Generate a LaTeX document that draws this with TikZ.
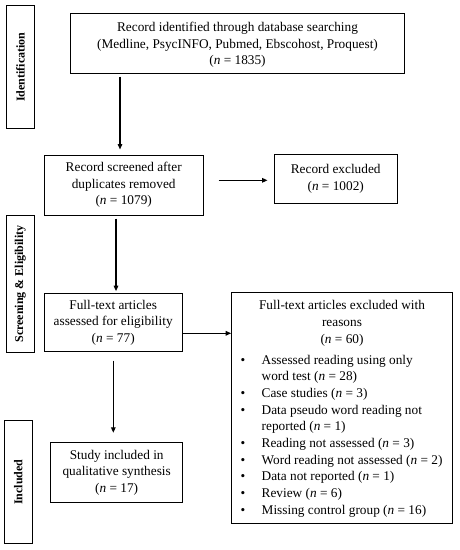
\documentclass[tikz,border=0pt]{standalone}
\usepackage{fontspec}
\setmainfont{Liberation Serif}
\usetikzlibrary{arrows.meta}
\newcommand{\nn}{\textit{n}}
\begin{document}
\begin{tikzpicture}[x=1pt,y=-1pt,
  txt/.style={font=\fontsize{13.3}{16.7}\selectfont},
  box/.style={txt,draw=black,line width=1pt,align=center,inner sep=0pt},
  side/.style={draw=black,line width=1pt,inner sep=0pt},
  sidetxt/.style={rotate=90,font=\fontsize{12}{14}\selectfont\bfseries,inner sep=0pt},
  arr/.style={line width=1.3pt,-{Triangle[length=5.5pt,width=4.5pt]}}]
\fill[white] (0,0) rectangle (460,550);
\useasboundingbox (0,0) rectangle (460,550);

% side labels
\node[side,minimum width=28.4pt,minimum height=122.6pt] (sid) at (20.5,67) {};
\node[sidetxt] (sidt) at (sid.center) {Identification};
\node[side,minimum width=28.3pt,minimum height=136.6pt] (sscr) at (20.2,284) {};
\node[sidetxt] (sscrt) at (sscr.center) {Screening \& Eligibility};
\node[side,minimum width=28.3pt,minimum height=122.6pt] (sinc) at (18.2,482) {};
\node[sidetxt] (sinct) at (sinc.center) {Included};

% boxes
\node[box,minimum width=333.6pt,minimum height=60pt] (top) at (237.5,43.3) {};
\node[txt,align=center,inner sep=0pt] (topt) at (237.5,45)
  {Record identified through database searching\\(Medline, PsycINFO, Pubmed, Ebscohost, Proquest)\\(\nn{} = 1835)};
\node[box,minimum width=159.3pt,minimum height=60pt] (scr) at (123.7,185)
  {Record screened after\\duplicates removed\\(\nn{} = 1079)};
\node[box,minimum width=123.3pt,minimum height=49pt] (exc) at (335.7,178.8)
  {Record excluded\\(\nn{} = 1002)};
\node[box,minimum width=138.3pt,minimum height=58.4pt] (full) at (113.2,322.5)
  {Full-text articles\\assessed for eligibility\\(\nn{} = 77)};
\node[box,minimum width=132pt,minimum height=60pt] (study) at (116.7,472.7)
  {Study included in\\qualitative synthesis\\(\nn{} = 17)};
\node[box,minimum width=221pt,minimum height=231.3pt] (exc2) at (342.2,408.3) {};
\node[txt,align=center,inner sep=0pt,anchor=north] (exc2h) at (342,300.5)
  {Full-text articles excluded with\\reasons\\(\nn{} = 60)};
\node[txt,align=left,inner sep=0pt,anchor=north west] (exc2l) at (240.5,352.2)
  {\begin{tabular}{@{}p{21pt}@{}l@{}}
  \textbullet & Assessed reading using only\\
   & word test (\nn{} = 28)\\
  \textbullet & Case studies (\nn{} = 3)\\
  \textbullet & Data pseudo word reading not\\
   & reported (\nn{} = 1)\\
  \textbullet & Reading not assessed (\nn{} = 3)\\
  \textbullet & Word reading not assessed (\nn{} = 2)\\
  \textbullet & Data not reported (\nn{} = 1)\\
  \textbullet & Review (\nn{} = 6)\\
  \textbullet & Missing control group (\nn{} = 16)
  \end{tabular}};

% arrows
\draw[arr,shorten <=2.7pt,shorten >=5pt] (top.south -| 120,0) -- (scr.north -| 120,0);
\draw[arr,shorten <=14.7pt,shorten >=6pt] (scr.east |- 0,180.3) -- (exc.west |- 0,180.3);
\draw[arr,shorten <=3pt,shorten >=1.6pt] (scr.south -| 116,0) -- (full.north -| 116,0);
\draw[arr] (full.east |- 0,333.3) -- (exc2.west |- 0,333.3);
\draw[arr,shorten <=8.3pt,shorten >=9.4pt] (full.south -| 113.3,0) -- (study.north -| 113.3,0);
\end{tikzpicture}
\end{document}
